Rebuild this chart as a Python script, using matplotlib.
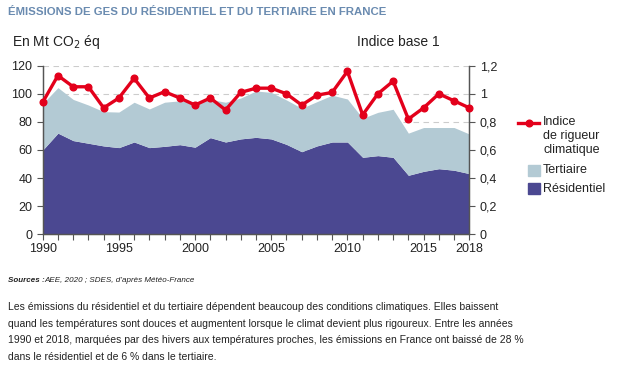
import numpy as np
import matplotlib.pyplot as plt
from matplotlib.lines import Line2D
from matplotlib.patches import Rectangle

plt.rcParams['font.family'] = ['Liberation Sans', 'DejaVu Sans']

years = list(range(1990, 2019))
residentiel = [60, 72, 66.7, 64.8, 62.9, 61.7, 65.7, 61.7, 62.6, 63.8,
               62, 68.8, 65.7, 67.9, 69, 67.9, 64, 58.8, 62.9, 65.7,
               65.7, 54.8, 56, 54.8, 42, 44.8, 46.7, 45.6, 43.2]
total = [93, 104.4, 96, 92, 87.3, 87, 94, 89.2, 94, 95,
         94, 96, 94, 97, 102, 101, 95.6, 89.7, 94.4, 99,
         96.3, 82.6, 86.8, 89, 72, 76, 76, 76, 71.4]
indice = [0.94, 1.13, 1.05, 1.05, 0.90, 0.97, 1.11, 0.97, 1.015, 0.97,
          0.92, 0.97, 0.885, 1.01, 1.04, 1.04, 1.00, 0.92, 0.99, 1.01,
          1.16, 0.85, 1.00, 1.09, 0.82, 0.90, 1.00, 0.95, 0.90]
xticks = [1990, 1995, 2000, 2005, 2010, 2015, 2018]
left_ticks = [0, 20, 40, 60, 80, 100, 120]
right_ticks = [0, 0.2, 0.4, 0.6, 0.8, 1.0, 1.2]
right_labels = ['0', '0,2', '0,4', '0,6', '0,8', '1', '1,2']

c_res = '#4b4891'
c_ter = '#b3cad4'
c_red = '#e3001b'
c_axis = '#555555'
c_txt = '#222222'

W, H = 621, 381
fig = plt.figure(figsize=(W / 100, H / 100), dpi=100)
ax = fig.add_axes([42.7 / W, 1 - 234.3 / H, 426.6 / W, 168.6 / H])

ax.fill_between(years, 0, residentiel, color=c_res, lw=0, zorder=2)
ax.fill_between(years, residentiel, total, color=c_ter, lw=0, zorder=2)
ax.set_xlim(1990, 2018)
ax.set_ylim(0, 120)
ax.set_yticks(left_ticks)
ax.set_xticks(xticks)
ax.set_xticks(years, minor=True)
ax.yaxis.grid(True, ls=(0, (5, 4)), color='#cccccc', lw=0.8, zorder=0)
ax.set_axisbelow(True)
ax.spines['top'].set_visible(False)
for s in ['left', 'right', 'bottom']:
    ax.spines[s].set_color(c_axis)
    ax.spines[s].set_linewidth(0.9)
ax.tick_params(axis='both', which='both', colors=c_axis, labelcolor=c_txt,
               labelsize=9, direction='out', length=4, width=0.8)
ax.tick_params(axis='x', pad=2)

ax2 = ax.twinx()
ax2.plot(years, indice, color=c_red, lw=2.4, marker='o', ms=4.8, zorder=5,
         clip_on=False)
ax2.set_ylim(0, 1.2)
ax2.set_yticks(right_ticks)
ax2.set_yticklabels(right_labels)
ax2.spines['top'].set_visible(False)
for s in ['left', 'right', 'bottom']:
    ax2.spines[s].set_color(c_axis)
    ax2.spines[s].set_linewidth(0.9)
ax2.tick_params(axis='y', colors=c_axis, labelcolor=c_txt, labelsize=9,
                direction='out', length=4, width=0.8)


def fx(px):
    return px / W


def fy(py):
    return 1 - py / H


# legend
fig.add_artist(Line2D([fx(518), fx(539)], [fy(123), fy(123)], color=c_red, lw=2.4))
fig.add_artist(Line2D([fx(528.5)], [fy(123)], color=c_red, marker='o', ms=4.8))
fig.text(fx(543), fy(116), 'Indice\nde rigueur\nclimatique', fontsize=9,
         va='top', ha='left', linespacing=1.25, color=c_txt)
fig.add_artist(Rectangle((fx(528), fy(176)), 12 / W, 11 / H, color=c_ter,
                         transform=fig.transFigure))
fig.text(fx(543), fy(170.5), 'Tertiaire', fontsize=9, va='center', color=c_txt)
fig.add_artist(Rectangle((fx(528), fy(194)), 12 / W, 11 / H, color=c_res,
                         transform=fig.transFigure))
fig.text(fx(543), fy(188.5), 'Résidentiel', fontsize=9, va='center', color=c_txt)

# titles and text
fig.text(fx(8), fy(12), 'ÉMISSIONS DE GES DU RÉSIDENTIEL ET DU TERTIAIRE EN FRANCE',
         fontsize=8.2, fontweight='bold', color='#6a8bb0', va='center')
fig.text(fx(12), fy(42), 'En Mt CO$_2$ éq', fontsize=10, va='center', color=c_txt)
fig.text(fx(357), fy(42), 'Indice base 1', fontsize=10, va='center', color=c_txt)
fig.text(fx(8), fy(280), 'Sources :', fontsize=5.8, va='center',
         style='italic', fontweight='bold', color=c_txt)
fig.text(fx(44), fy(280), 'AEE, 2020 ; SDES, d’après Météo-France', fontsize=5.8,
         va='center', style='italic', color=c_txt)
para = ('Les émissions du résidentiel et du tertiaire dépendent beaucoup des conditions climatiques. Elles baissent\n'
        'quand les températures sont douces et augmentent lorsque le climat devient plus rigoureux. Entre les années\n'
        '1990 et 2018, marquées par des hivers aux températures proches, les émissions en France ont baissé de 28 %\n'
        'dans le résidentiel et de 6 % dans le tertiaire.')
fig.text(fx(8), fy(302), para, fontsize=7.5, va='top', linespacing=1.83, color=c_txt)

fig.savefig('out.png', dpi=100)
